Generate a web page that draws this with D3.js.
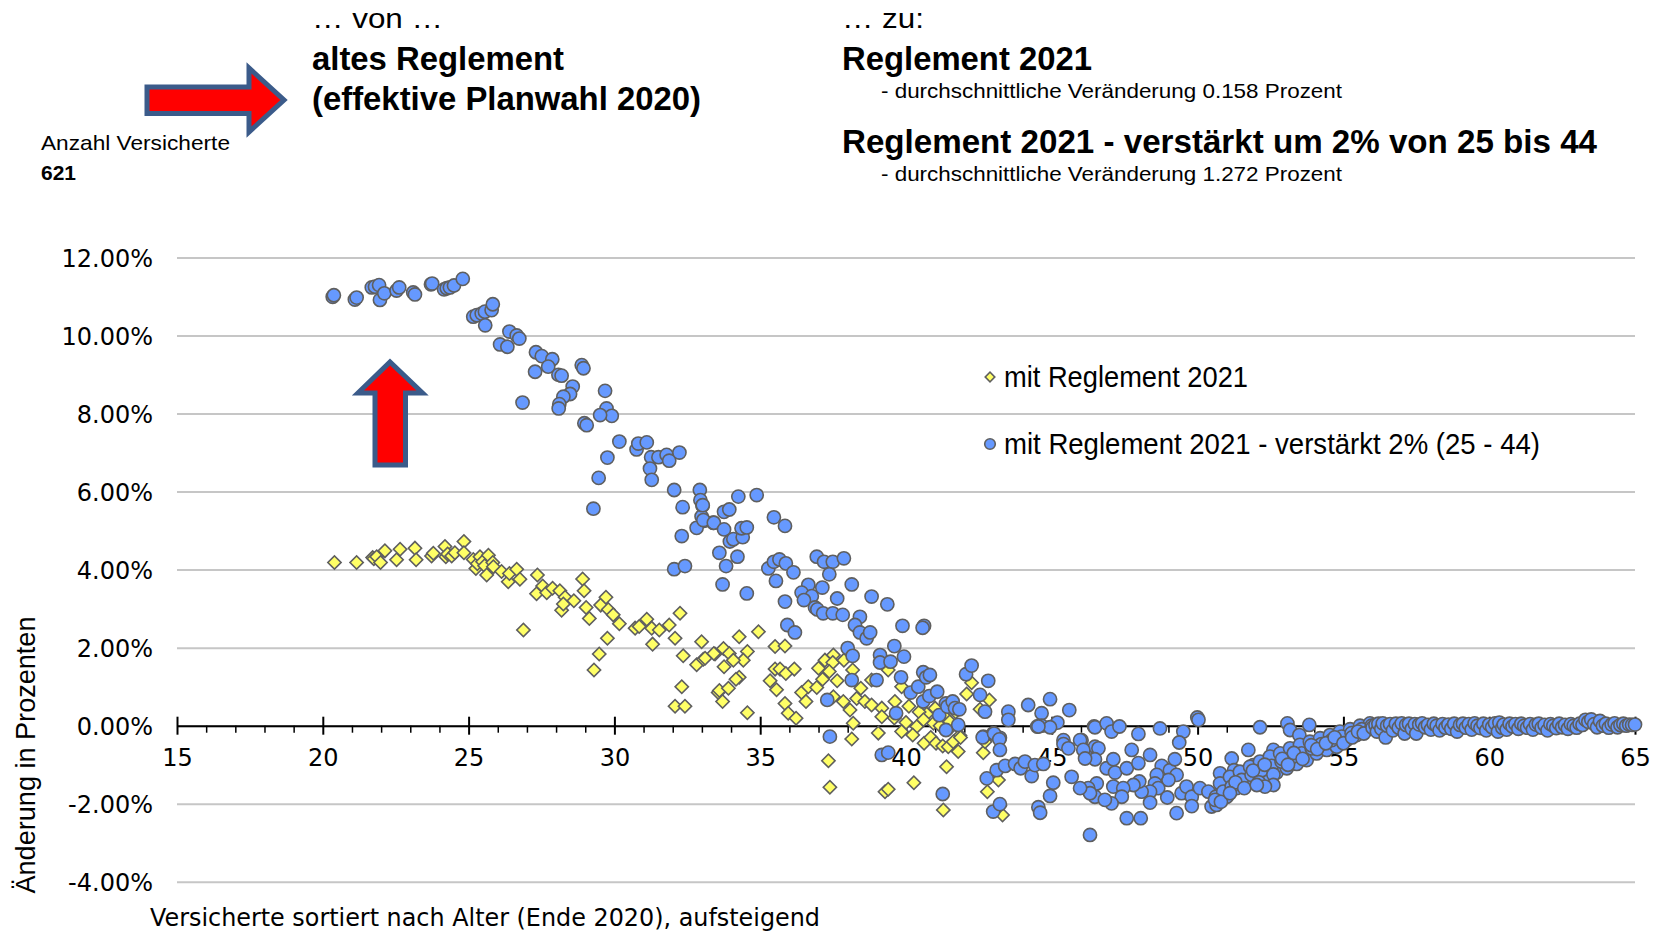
<!doctype html>
<html>
<head>
<meta charset="utf-8">
<script src="https://cdnjs.cloudflare.com/ajax/libs/d3/7.8.5/d3.min.js"></script>
<style>
  body { margin: 0; background: #fff; }
  svg { display: block; }
  .grid line { stroke: #c6c6c6; stroke-width: 2; }
  .tick text { font-family: "DejaVu Sans", sans-serif; font-size: 24px; fill: #000; }
  .hdr { font-family: "Liberation Sans", Arial, sans-serif; fill: #000; }
  .dot { fill: #6699ff; stroke: #5f5f5f; stroke-width: 1.6; }
  .dia { fill: #ffff66; stroke: #5f5f5f; stroke-width: 1.6; }
</style>
</head>
<body>
<script>
// x axis: age, y axis: change in percent
var xTicks = [15, 20, 25, 30, 35, 40, 45, 50, 55, 60, 65];
var yTicks = [-4, -2, 0, 2, 4, 6, 8, 10, 12];

// "mit Reglement 2021" - [age, change %]
var mitReglement = [
  [20.40,4.18],[21.16,4.18],[21.71,4.31],[21.75,4.28],[21.85,4.33],[21.98,4.18],[22.13,4.48],[22.53,4.25],[22.65,4.52],
  [23.16,4.55],[23.20,4.25],[23.73,4.35],[23.79,4.42],[24.19,4.59],[24.22,4.33],[24.28,4.40],[24.42,4.35],[24.53,4.43],
  [24.84,4.72],[24.84,4.43],[25.16,4.26],[25.25,4.03],[25.30,4.15],[25.39,4.33],[25.48,4.20],[25.55,4.10],[25.62,3.86],
  [25.68,4.37],[25.83,4.18],[25.85,4.07],[26.13,3.95],[26.36,3.69],[26.40,3.90],[26.65,4.01],[26.76,3.75],[26.88,2.45],
  [27.36,3.86],[27.33,3.38],[27.54,3.58],[27.68,3.41],[27.88,3.52],[28.13,3.46],[28.31,3.29],[28.19,2.96],[28.25,3.12],
  [28.61,3.20],[28.91,3.76],[28.96,3.46],[29.03,3.03],[29.14,2.75],[29.30,1.43],[29.48,1.84],[29.76,2.24],[29.53,3.09],
  [29.71,3.29],[29.79,2.98],[29.96,2.84],[30.17,2.61],[30.71,2.50],[30.85,2.54],[31.11,2.73],[31.28,2.50],[31.31,2.09],
  [31.54,2.45],[31.88,2.58],[32.08,2.24],[32.25,2.88],[32.36,1.79],[32.31,1.00],[32.08,0.50],[32.42,0.50],[32.82,1.56],
  [32.99,2.15],[33.05,1.70],[33.45,1.84],[33.56,0.85],[33.11,1.73],[33.41,1.85],[33.74,1.98],[33.94,1.85],[34.28,2.28],
  [34.56,1.90],[34.42,1.68],[34.08,1.68],[33.76,1.51],[34.28,1.24],[34.17,1.19],[33.60,0.90],[33.91,0.96],[33.71,0.62],
  [34.56,0.33],[34.94,2.41],[35.51,2.03],[35.85,2.04],[35.51,1.45],[35.68,1.45],[35.88,1.34],[36.17,1.45],[35.34,1.15],
  [35.56,0.92],[35.85,0.57],[35.96,0.32],[36.23,0.19],[36.42,0.85],[36.65,1.00],[36.57,0.62],[36.94,0.98],[37.00,1.47],
  [37.22,1.68],[37.51,1.81],[37.49,1.62],[37.14,1.19],[37.37,1.39],[37.64,1.15],[37.87,1.68],[38.17,1.43],[38.45,0.96],
  [38.31,0.70],[38.59,0.62],[38.82,0.53],[37.85,0.62],[38.08,0.40],[38.19,0.06],[37.51,0.74],[38.82,1.17],[39.39,1.43],
  [39.62,0.62],[39.17,0.45],[39.17,0.23],[39.85,1.00],[40.00,0.08],[40.37,-0.02],[40.71,0.30],[40.94,0.06],[41.17,0.00],
  [41.57,-0.02],[41.85,-0.25],[42.25,1.10],[42.08,0.81],[42.86,0.66],[42.54,0.42],[39.05,-0.19],[39.85,-0.15],[40.23,-0.24],
  [38.14,-0.34],[40.10,0.50],[40.45,0.35],[40.60,0.15],[41.00,0.45],[41.30,0.25],[41.50,0.10],[41.70,0.35],[39.60,0.20],
  [37.34,-0.90],[37.39,-1.58],[40.62,-0.45],[40.85,-0.30],[41.03,-0.45],[41.26,-0.52],[41.45,-0.54],[41.62,-0.41],
  [41.79,-0.66],[41.87,-0.30],[41.39,-1.05],[40.27,-1.46],[39.28,-1.69],[39.39,-1.63],[41.28,-2.16],[42.65,-0.69],
  [42.79,-1.69],[43.17,-1.39],[43.31,-2.29],[43.22,-2.05],[42.71,-0.41]
];

// "mit Reglement 2021 - verstaerkt 2% (25 - 44)" - [age, change %]
var verstaerkt = [
  [20.34,10.99],[20.38,11.03],[21.10,10.92],[21.16,10.97],[21.68,11.23],[21.79,11.25],[21.93,11.29],[21.96,10.91],
  [22.11,11.08],[22.53,11.15],[22.62,11.23],[23.10,11.10],[23.16,11.05],[23.71,11.31],[23.75,11.33],[24.16,11.18],
  [24.25,11.21],[24.36,11.23],[24.50,11.28],[24.80,11.45],[25.16,10.48],[25.28,10.52],[25.45,10.56],[25.56,10.61],
  [25.79,10.65],[25.83,10.80],[25.57,10.26],[26.40,10.10],[26.08,9.77],[26.33,9.71],[26.65,10.00],[26.74,9.92],
  [27.31,9.57],[27.51,9.47],[27.87,9.39],[27.73,9.20],[27.28,9.07],[28.08,8.99],[28.19,8.97],[28.88,9.24],[28.94,9.16],
  [26.85,8.28],[28.57,8.69],[28.48,8.50],[28.25,8.43],[28.11,8.24],[28.09,8.13],[29.68,8.58],[29.73,8.13],[29.91,7.94],
  [29.51,7.96],[28.97,7.75],[29.05,7.70],[30.17,7.28],[30.76,7.08],[30.82,7.23],[31.11,7.26],[31.26,6.88],[31.51,6.88],
  [31.79,6.94],[31.88,6.79],[32.23,7.00],[31.22,6.59],[31.28,6.30],[29.76,6.87],[29.46,6.35],[29.28,5.56],[32.05,6.04],
  [32.34,5.60],[32.93,6.04],[32.95,5.78],[33.02,5.64],[32.99,5.36],[33.07,5.25],[33.39,5.20],[32.82,5.07],[32.31,4.86],
  [32.05,4.01],[32.42,4.09],[33.03,5.65],[33.05,5.27],[33.41,5.20],[34.25,5.87],[34.88,5.91],[33.76,5.48],[33.94,5.54],
  [33.76,5.03],[33.96,4.72],[34.08,4.78],[34.40,4.83],[34.36,5.06],[34.54,5.08],[33.60,4.43],[34.22,4.33],[33.83,4.09],
  [33.71,3.62],[34.54,3.39],[35.47,5.34],[35.85,5.12],[35.28,4.03],[35.47,4.20],[35.66,4.26],[35.88,4.16],[36.14,3.93],
  [35.54,3.71],[35.85,3.18],[35.93,2.58],[36.19,2.39],[36.94,4.33],[37.19,4.20],[37.49,4.20],[37.87,4.29],[37.37,3.88],
  [36.65,3.61],[36.42,3.41],[36.77,3.32],[36.50,3.22],[37.13,3.54],[36.88,3.03],[36.96,2.98],[37.16,2.88],[37.49,2.88],
  [37.83,2.84],[37.64,3.26],[38.14,3.62],[38.82,3.31],[39.36,3.11],[38.42,2.79],[38.25,2.58],[38.42,2.39],[38.65,2.24],
  [38.77,2.39],[39.88,2.56],[40.62,2.56],[40.57,2.51],[38.00,1.99],[38.17,1.79],[39.11,1.81],[39.11,1.62],[39.47,1.64],
  [39.60,2.04],[39.93,1.77],[38.14,1.17],[38.99,1.17],[39.83,1.24],[40.16,0.85],[40.42,1.00],[40.59,1.37],[40.69,1.24],
  [40.82,1.30],[40.59,0.62],[40.80,0.76],[41.07,0.87],[41.14,0.27],[41.37,0.57],[41.42,0.49],[41.60,0.62],[41.68,0.45],
  [41.83,0.42],[41.79,0.02],[41.37,-0.11],[39.66,0.32],[37.30,0.66],[42.06,1.32],[42.25,1.54],[42.54,0.79],[42.82,1.15],
  [42.71,0.36],[43.51,0.36],[43.51,0.15],[44.19,0.53],[44.65,0.32],[44.94,0.68],[45.19,0.08],[45.60,0.40],[44.50,-0.02],
  [44.65,0.00],[46.45,-0.02],[42.65,-0.28],[42.99,-0.20],[43.22,-0.31],[37.39,-0.28],[45.40,-0.37],[46.02,-0.37],
  [39.17,-0.75],[39.39,-0.69],[41.26,-1.75],[42.63,-0.30],[43.02,-0.20],[43.20,-0.35],[43.22,-0.62],[42.77,-1.35],
  [43.11,-1.14],[43.40,-1.03],[43.74,-0.98],[43.93,-1.09],[44.08,-0.92],[44.31,-1.29],[44.42,-1.01],[44.71,-0.98],
  [45.05,-1.46],[44.94,-1.80],[45.68,-1.31],[42.99,-2.20],[43.22,-2.01],[44.54,-2.09],[44.60,-2.23],[46.31,-2.80],
  [45.40,-0.47],[45.57,-0.58],[45.97,-0.37],[46.20,-0.66],[46.48,-0.54],[46.37,-1.65],[46.48,-1.82],[44.94,-0.04],
  [44.54,-0.02],[46.48,-0.04],[46.88,0.06],[47.05,-0.15],[47.32,-0.02],[47.97,-0.21],[48.71,-0.07],[49.51,-0.15],
  [49.37,-0.43],[49.99,0.21],[50.03,0.15],[52.14,-0.04],[53.08,0.06],[53.17,-0.11],[53.49,-0.24],[53.83,0.02],
  [46.08,-0.62],[46.60,-0.58],[46.48,-0.86],[46.14,-0.84],[46.88,-1.09],[47.11,-0.86],[47.17,-1.20],[47.11,-1.56],
  [47.57,-1.09],[47.74,-0.62],[47.97,-0.96],[48.37,-0.75],[48.77,-1.03],[49.05,-1.14],[49.22,-0.86],[49.28,-1.26],
  [49.00,-1.39],[48.60,-1.26],[48.54,-1.48],[48.65,-1.60],[48.37,-1.69],[48.08,-1.69],[48.00,-1.43],[47.80,-1.52],
  [47.45,-1.60],[47.40,-1.82],[47.05,-1.99],[46.82,-1.90],[46.54,-1.48],[46.25,-1.60],[46.31,-1.73],[47.57,-2.37],
  [48.05,-2.37],[48.96,-1.84],[49.28,-2.24],[48.37,-1.97],[49.45,-1.73],[49.62,-1.56],[49.80,-1.82],[50.08,-1.60],
  [49.80,-2.06],[50.37,-1.69],[50.48,-2.07],[50.65,-2.03],[50.63,-1.82],[50.83,-1.56],[50.77,-1.22],[51.17,-0.84],
  [51.25,-1.14],[51.74,-0.62],[52.60,-0.62],[51.91,-1.01],[52.37,-1.26],[45.97,-1.60],
  [51.00,-1.82],[51.34,-1.60],[51.68,-1.48],[52.03,-1.39],[52.37,-1.32],[52.71,-1.20],[53.06,-1.09],[53.40,-0.98],
  [53.74,-0.88],[54.08,-0.71],[54.43,-0.62],[54.77,-0.54],[55.11,-0.37],[55.45,-0.24],[55.80,-0.11],[56.03,-0.04],
  [50.77,-1.48],[51.11,-1.31],[51.45,-1.18],[51.80,-1.05],[52.14,-0.92],[52.48,-0.79],[52.83,-0.71],[53.17,-0.58],
  [53.51,-0.49],[53.85,-0.41],[54.20,-0.32],[54.54,-0.24],[54.88,-0.15],[55.23,-0.09],[55.57,0.00],[55.91,0.06],
  [50.88,-1.69],[51.17,-1.56],[51.51,-1.39],[51.85,-1.26],[52.20,-1.14],[52.54,-1.03],[52.88,-0.92],[53.23,-0.81],
  [53.57,-0.71],[53.91,-0.58],[54.25,-0.47],[54.60,-0.37],[54.94,-0.28],[55.28,-0.19],[55.63,-0.09],[55.97,0.00],
  [50.60,-1.90],[50.80,-1.95],[51.30,-1.45],[51.60,-1.60],[51.90,-1.15],[52.10,-1.45],[52.30,-1.00],[52.60,-1.25],
  [52.90,-0.85],[53.10,-1.00],[53.30,-0.70],[53.60,-0.85],[53.90,-0.50],[54.10,-0.60],[54.40,-0.45],[54.70,-0.30],
  [55.00,-0.45],[55.30,-0.30],[55.50,-0.15],[55.70,-0.20],[52.60,-1.52],[52.31,-1.56],[52.03,-1.52],[51.11,-1.73],
  [56.00,-0.05],[56.10,0.02],[56.15,-0.15],[56.20,0.05],[56.30,-0.08],[56.35,0.06],[56.45,-0.30],[56.50,0.00],
  [56.60,0.04],[56.70,-0.12],[56.80,0.05],[56.90,-0.05],[57.00,0.06],[57.10,-0.20],[57.15,0.02],[57.25,0.05],
  [57.35,-0.08],[57.45,0.04],[57.50,-0.20],[57.60,0.03],[57.70,0.06],[57.80,-0.04],[57.90,0.02],[58.00,-0.10],
  [58.10,0.05],[58.20,0.00],[58.30,-0.12],[58.40,0.04],[58.50,-0.05],[58.60,0.03],[58.70,-0.08],[58.80,0.05],
  [58.90,-0.15],[59.00,0.02],[59.10,0.05],[59.20,-0.05],[59.30,0.04],[59.40,-0.10],[59.50,0.06],[59.60,0.00],
  [59.70,-0.06],[59.80,0.05],[59.90,-0.12],[60.00,0.03],[60.10,-0.04],[60.20,0.06],[60.30,-0.15],[60.35,0.08],
  [60.45,-0.05],[60.50,0.03],[60.60,-0.10],[60.70,0.05],[60.80,-0.02],[60.90,0.04],[61.00,-0.08],[61.10,0.05],
  [61.20,0.00],[61.30,-0.05],[61.40,0.04],[61.50,-0.10],[61.60,0.03],[61.70,0.05],[61.80,-0.05],[61.90,0.02],
  [62.00,-0.12],[62.10,0.04],[62.20,0.00],[62.30,-0.06],[62.40,0.05],[62.50,-0.04],[62.60,0.02],[62.70,-0.08],
  [62.80,0.04],[62.90,0.00],[63.00,-0.05],[63.10,0.05],[63.20,0.02],[63.30,0.15],[63.40,0.10],[63.50,0.16],
  [63.60,0.04],[63.70,-0.04],[63.80,0.12],[63.90,0.00],[64.00,0.05],[64.10,-0.05],[64.20,0.03],[64.30,0.06],
  [64.40,-0.04],[64.50,0.02],[64.60,0.05],[64.70,0.00],[64.80,0.03],[64.90,0.02],[65.00,0.03]
];

var legendLabels = ["mit Reglement 2021", "mit Reglement 2021 - verstärkt 2% (25 - 44)"];

var svg = d3.select("body").append("svg")
  .attr("width", 1654)
  .attr("height", 934);

var x = d3.scaleLinear().domain([15, 65]).range([177, 1635]);
var y = d3.scaleLinear().domain([-4, 12]).range([881.8, 257.4]);

// gridlines + y tick labels
var yAxis = svg.append("g")
  .attr("class", "grid")
  .attr("transform", "translate(177,0)")
  .call(d3.axisLeft(y)
    .tickValues(yTicks)
    .tickSize(-(1635 - 177))
    .tickPadding(24)
    .tickFormat(function (d) { return d.toFixed(2) + "%"; }));
yAxis.select(".domain").remove();
yAxis.selectAll(".tick text").attr("dy", "0.36em");

// x axis at 0%
var y0 = y(0);
svg.append("g")
  .attr("transform", "translate(0," + y0 + ")")
  .call(d3.axisBottom(x)
    .tickValues(d3.range(16, 65).filter(function (d) { return d % 5 !== 0; }))
    .tickSize(7)
    .tickSizeOuter(0)
    .tickFormat(""))
  .call(function (g) {
    g.select(".domain").attr("stroke", "#000").attr("stroke-width", 2);
    g.selectAll(".tick line").attr("stroke", "#000").attr("stroke-width", 1.5);
  });

var xMajor = svg.append("g")
  .attr("transform", "translate(0," + y0 + ")")
  .call(d3.axisBottom(x).tickValues(xTicks).tickSize(0).tickFormat(d3.format("d")));
xMajor.select(".domain").remove();
xMajor.selectAll(".tick line").attr("y1", -9).attr("y2", 9).attr("stroke", "#000").attr("stroke-width", 2);
xMajor.selectAll(".tick text").attr("y", 40).attr("dy", null);

// markers
var diamond = d3.symbol().type(d3.symbolSquare).size(88);

svg.append("g").selectAll("path")
  .data(mitReglement)
  .enter().append("path")
  .attr("class", "dia")
  .attr("d", diamond)
  .attr("transform", function (d) { return "translate(" + x(d[0]) + "," + y(d[1]) + ") rotate(45)"; });

svg.append("g").selectAll("circle")
  .data(verstaerkt)
  .enter().append("circle")
  .attr("class", "dot")
  .attr("r", 6.6)
  .attr("cx", function (d) { return x(d[0]); })
  .attr("cy", function (d) { return y(d[1]); });

// legend
svg.append("path")
  .attr("class", "dia")
  .attr("d", d3.symbol().type(d3.symbolSquare).size(46))
  .attr("transform", "translate(990,377) rotate(45)");
svg.append("circle")
  .attr("class", "dot")
  .attr("r", 5.3)
  .attr("cx", 990)
  .attr("cy", 444);
svg.append("text").attr("class", "hdr")
  .attr("x", 1004).attr("y", 387)
  .attr("font-size", 29)
  .attr("textLength", 244).attr("lengthAdjust", "spacingAndGlyphs")
  .text(legendLabels[0]);
svg.append("text").attr("class", "hdr")
  .attr("x", 1004).attr("y", 454)
  .attr("font-size", 29)
  .attr("textLength", 536).attr("lengthAdjust", "spacingAndGlyphs")
  .text(legendLabels[1]);

// axis titles
svg.append("text")
  .attr("class", "hdr")
  .attr("transform", "translate(35,755) rotate(-90)")
  .attr("text-anchor", "middle")
  .attr("font-size", 27)
  .attr("textLength", 277).attr("lengthAdjust", "spacingAndGlyphs")
  .text("Änderung in Prozenten");

svg.append("text")
  .attr("x", 150).attr("y", 926)
  .style("font-family", "DejaVu Sans, sans-serif")
  .attr("font-size", 24)
  .attr("textLength", 670).attr("lengthAdjust", "spacingAndGlyphs")
  .text("Versicherte sortiert nach Alter (Ende 2020), aufsteigend");

// header texts
var header = [
  { t: "… von …", x: 312, y: 28, s: 28, w: 131, b: false },
  { t: "altes Reglement", x: 312, y: 70, s: 34, w: 252, b: true },
  { t: "(effektive Planwahl 2020)", x: 312, y: 110, s: 34, w: 389, b: true },
  { t: "… zu:", x: 842, y: 28, s: 28, w: 82, b: false },
  { t: "Reglement 2021", x: 842, y: 70, s: 34, w: 250, b: true },
  { t: "- durchschnittliche Veränderung 0.158 Prozent", x: 881, y: 98, s: 21, w: 461, b: false },
  { t: "Reglement 2021 - verstärkt um 2% von 25 bis 44", x: 842, y: 153, s: 34, w: 755, b: true },
  { t: "- durchschnittliche Veränderung 1.272 Prozent", x: 881, y: 181, s: 21, w: 461, b: false },
  { t: "Anzahl Versicherte", x: 41, y: 150, s: 21, w: 189, b: false },
  { t: "621", x: 41, y: 180, s: 21, w: 35, b: true }
];
svg.append("g").selectAll("text")
  .data(header)
  .enter().append("text")
  .attr("class", "hdr")
  .attr("x", function (d) { return d.x; })
  .attr("y", function (d) { return d.y; })
  .attr("font-size", function (d) { return d.s; })
  .attr("font-weight", function (d) { return d.b ? "bold" : "normal"; })
  .attr("textLength", function (d) { return d.w; })
  .attr("lengthAdjust", "spacingAndGlyphs")
  .text(function (d) { return d.t; });

// arrows
var arrowStyle = function (p) {
  p.attr("fill", "#ff0000").attr("stroke", "#3b5b8a").attr("stroke-width", 5).attr("stroke-linejoin", "miter");
};
svg.append("polygon")
  .attr("points", "147,87 249,87 249,68 284,100 249,132 249,113.5 147,113.5")
  .call(arrowStyle);
svg.append("polygon")
  .attr("points", "375,465 375,393 358,393 390,362 422.5,393 405.5,393 405.5,465")
  .call(arrowStyle);
</script>
</body>
</html>
